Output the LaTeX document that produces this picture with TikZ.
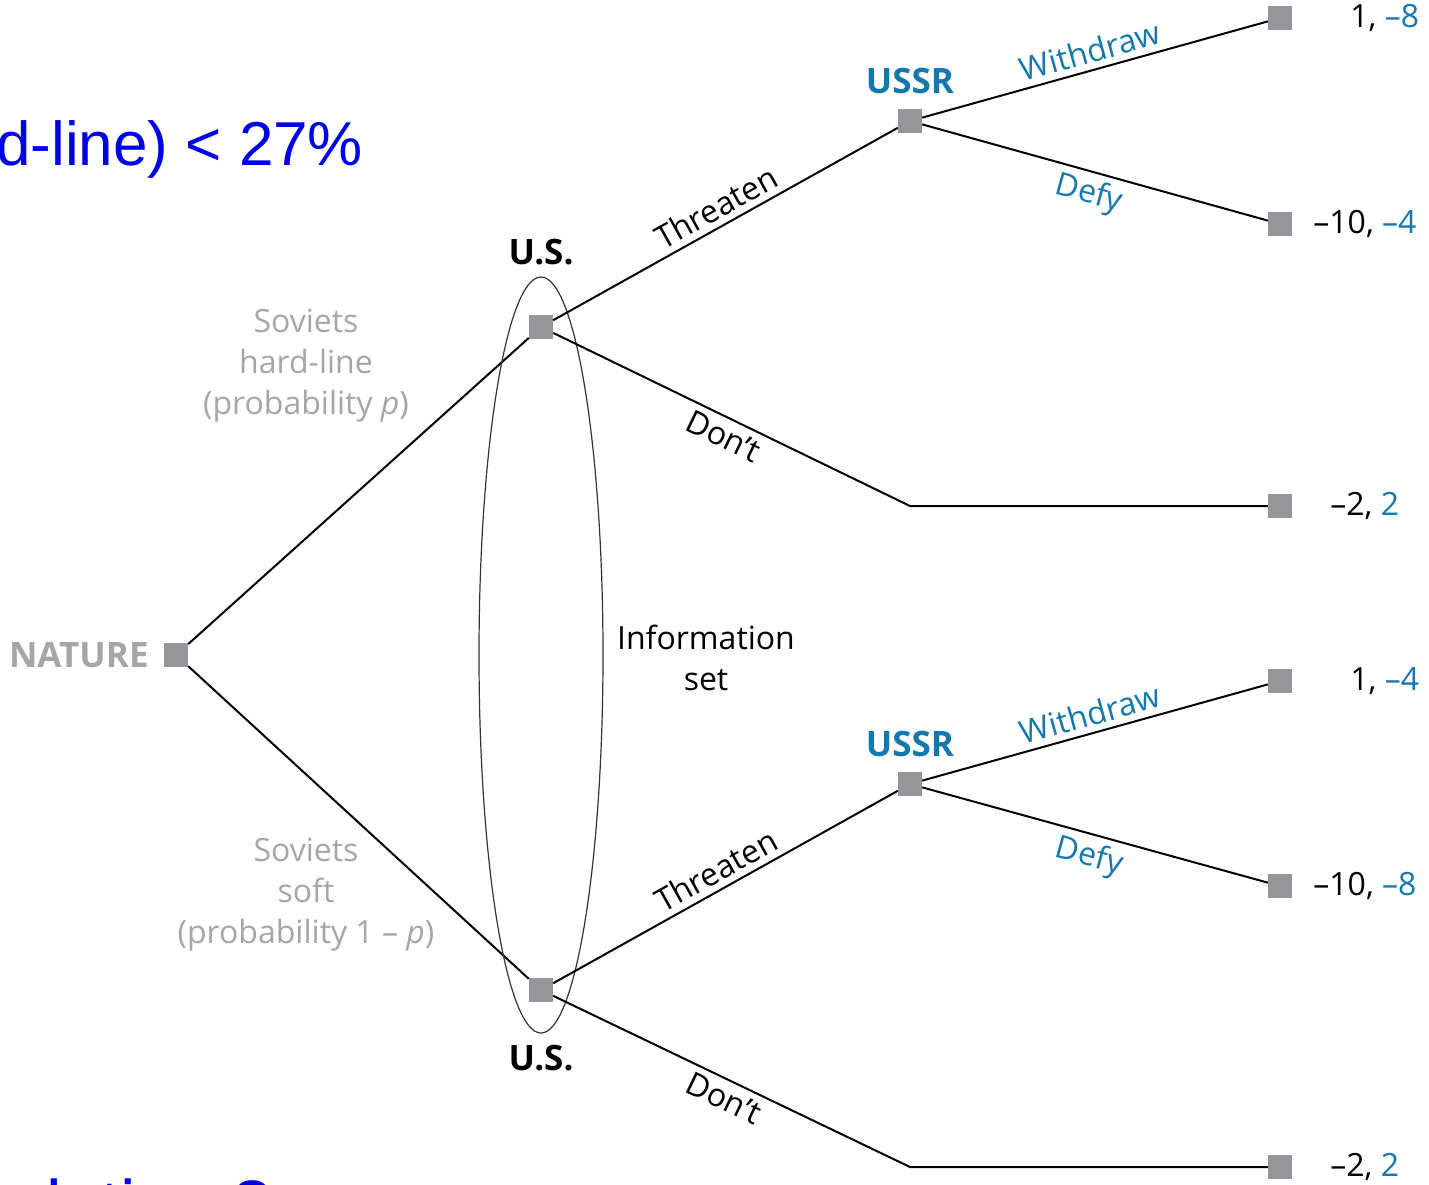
\documentclass[tikz,border=0pt]{standalone}
\usepackage{fontspec}
\setmainfont{Open Sans}
\newfontfamily\slidefont{Liberation Sans}
\usetikzlibrary{positioning}
\definecolor{ussrblue}{RGB}{20,120,175}
\definecolor{softgray}{RGB}{165,165,170}
\definecolor{boxgray}{RGB}{150,150,154}
\definecolor{slideblue}{RGB}{0,0,230}
\begin{document}
\begin{tikzpicture}[x=1pt,y=-1pt,
		decision/.style={fill=boxgray,minimum size=24pt,inner sep=0pt},
		player/.style={inner sep=0pt,font=\fontsize{35}{40}\selectfont\bfseries},
		txt/.style={inner sep=0pt,font=\fontsize{32}{41}\selectfont,align=center},
		branch/.style={txt,sloped,inner sep=6pt},
		edge/.style={line width=2pt}]
	\useasboundingbox (0,0) rectangle (1429,1184);
	\clip (0,0) rectangle (1429,1184);
	% slide text, cut at the edges
	\node[anchor=base west,inner sep=0pt,text=slideblue,font=\fontsize{62}{70}\selectfont\slidefont] (prob) at (-4,165) {d-line) < 27\%};
	\node[anchor=base west,inner sep=0pt,text=slideblue,font=\fontsize{70}{80}\selectfont\slidefont] (question) at (46,1229) {lation ?};
	% decision nodes
	\node[decision] (nature) at (176,655) {};
	\node[decision] (us1) at (541,327) {};
	\node[decision] (us2) at (541,990) {};
	\node[decision] (ussr1) at (910,121) {};
	\node[decision] (ussr2) at (910,784) {};
	\node[decision] (t1) at (1280,18) {};
	\node[decision] (t2) at (1280,224) {};
	\node[decision] (t3) at (1280,506) {};
	\node[decision] (t4) at (1280,681) {};
	\node[decision] (t5) at (1280,886) {};
	\node[decision] (t6) at (1280,1167) {};
	\coordinate (c1) at (910,506);
	\coordinate (c2) at (910,1167);
	% players
	\node[player,text=softgray,left=15pt of nature] (naturelabel) {NATURE};
	\node[player,above=50pt of us1] (uslabel1) {U.S.};
	\node[player,below=43pt of us2] (uslabel2) {U.S.};
	\node[player,text=ussrblue,above=15pt of ussr1] (ussrlabel1) {USSR};
	\node[player,text=ussrblue,above=15pt of ussr2] (ussrlabel2) {USSR};
	% payoffs
	\node[txt,right=58pt of t1] (p1) {1, {\color{ussrblue}–8}};
	\node[txt,right=21pt of t2] (p2) {–10, {\color{ussrblue}–4}};
	\node[txt,right=38pt of t3] (p3) {–2, {\color{ussrblue}2}};
	\node[txt,right=58pt of t4] (p4) {1, {\color{ussrblue}–4}};
	\node[txt,right=21pt of t5] (p5) {–10, {\color{ussrblue}–8}};
	\node[txt,right=38pt of t6] (p6) {–2, {\color{ussrblue}2}};
	% nature's moves
	\node[txt,text=softgray] (hard) at (306,366) {Soviets\\hard-line\\(probability \textit{p})};
	\node[txt,text=softgray] (soft) at (306,895) {Soviets\\soft\\(probability 1 – \textit{p})};
	\draw[edge] (nature) -- (us1);
	\draw[edge] (nature) -- (us2);
	% information set
	\draw[line width=1.2pt,black!80] (541,655) ellipse [x radius=62pt,y radius=378pt];
	\node[txt] (infoset) at (706,658) {Information\\set};
	% upper half
	\draw[edge] (us1) -- node[branch,above] {Threaten} (ussr1);
	\draw[edge] (us1) -- node[branch,below] {Don’t} (c1) -- (t3);
	\draw[edge] (ussr1) -- node[branch,above,text=ussrblue] {Withdraw} (t1);
	\draw[edge] (ussr1) -- node[branch,below,text=ussrblue] {Defy} (t2);
	% lower half
	\draw[edge] (us2) -- node[branch,above] {Threaten} (ussr2);
	\draw[edge] (us2) -- node[branch,below] {Don’t} (c2) -- (t6);
	\draw[edge] (ussr2) -- node[branch,above,text=ussrblue] {Withdraw} (t4);
	\draw[edge] (ussr2) -- node[branch,below,text=ussrblue] {Defy} (t5);
\end{tikzpicture}
\end{document}
